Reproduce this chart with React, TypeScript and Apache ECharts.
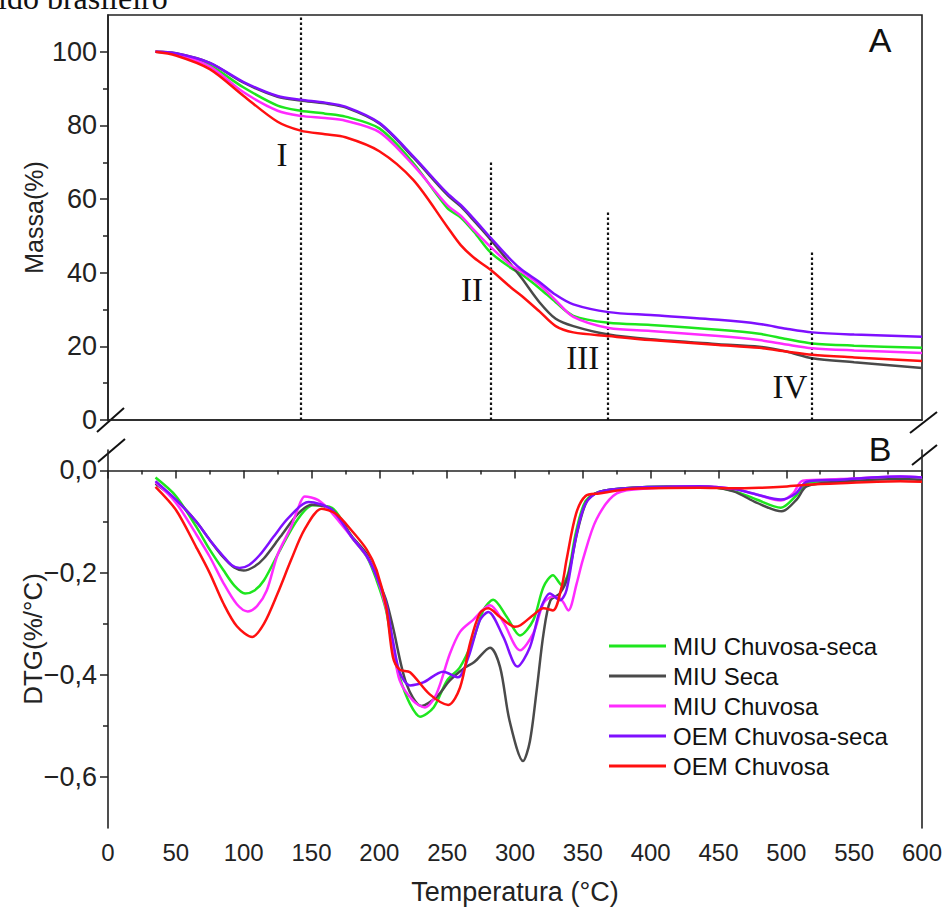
import React, { useEffect, useRef } from 'react';
import * as echarts from 'echarts';

const seriesNames = ['MIU Chuvosa-seca', 'MIU Seca', 'MIU Chuvosa', 'OEM Chuvosa-seca', 'OEM Chuvosa'];
const seriesColors = ['#1ee61e', '#4a4a4a', '#ff2bff', '#7f10ff', '#ff1010'];

// TG (mass %) curves
const tgTemps = [35, 50, 75, 100, 125, 142, 160, 175, 200, 225, 250, 260, 270, 282, 297, 305, 318, 330, 343, 369, 400, 450, 480, 500, 519, 550, 600];
const tgMiuChuvosaSeca = [100, 99.5, 96.3, 90.3, 85.4, 84, 83.2, 82.4, 79.2, 69.8, 57.6, 55, 51, 45.5, 41.3, 39.5, 35.8, 32, 28.3, 26.4, 25.8, 24.5, 23.4, 22, 20.8, 20.2, 19.6];
const tgMiuSeca = [100, 99.6, 97, 91.6, 87.8, 86.8, 86, 84.9, 80.5, 71.3, 61.2, 58, 54, 49, 42.2, 38.5, 32, 27.5, 25.5, 23.2, 21.9, 20.6, 19.9, 18.6, 16.8, 15.7, 14.1];
const tgMiuChuvosa = [100, 99.4, 96, 89, 84, 82.6, 82, 81.3, 78.2, 69.2, 58.4, 55.5, 51.5, 47, 42, 40.3, 36.8, 32.5, 28, 25, 24.2, 22.8, 21.7, 20.5, 19.5, 18.9, 18.2];
const tgOemChuvosaSeca = [100, 99.6, 97, 91.8, 88, 87, 86.2, 85.1, 80.7, 71.6, 61.6, 58.4, 54.5, 49.5, 43.5, 40.8, 37.5, 34, 31.4, 29.3, 28.5, 27.2, 26.1, 24.8, 23.8, 23.2, 22.6];
const tgOemChuvosa = [100, 99, 95.3, 88, 81, 78.6, 77.6, 76.8, 73, 65.2, 52.5, 47.5, 44, 40.8, 36, 33.7, 29.5, 25.5, 23.8, 22.8, 21.7, 20.4, 19.6, 18.6, 17.7, 17, 16];

// DTG curves [temperature, value]
const dtgMiuChuvosaSeca = [[35,-0.014],[50,-0.05],[65,-0.11],[75,-0.155],[85,-0.195],[93,-0.225],[101,-0.241],[108,-0.235],[115,-0.215],[127,-0.155],[140,-0.095],[151,-0.068],[165,-0.073],[180,-0.132],[191,-0.17],[198,-0.215],[205,-0.274],[210,-0.352],[215,-0.405],[222.6,-0.457],[230,-0.482],[240,-0.464],[250,-0.411],[259.5,-0.385],[269,-0.333],[276.6,-0.274],[284,-0.253],[294,-0.287],[303.7,-0.323],[313.5,-0.293],[321,-0.228],[328,-0.205],[334.4,-0.224],[339.3,-0.201],[345,-0.12],[352,-0.06],[362,-0.042],[387,-0.034],[436,-0.031],[461,-0.04],[478,-0.057],[496,-0.073],[507,-0.05],[515,-0.025],[540,-0.019],[584,-0.014],[600,-0.018]];
const dtgMiuSeca = [[35,-0.026],[50,-0.057],[65,-0.1],[75,-0.136],[85,-0.17],[93,-0.19],[100,-0.196],[108,-0.188],[115,-0.172],[127,-0.13],[140,-0.085],[150,-0.067],[165,-0.077],[180,-0.13],[191,-0.165],[200,-0.22],[205,-0.254],[210,-0.306],[220,-0.418],[231,-0.461],[242,-0.444],[252,-0.411],[262,-0.388],[270,-0.375],[281.6,-0.347],[289,-0.385],[296,-0.49],[306,-0.569],[311,-0.53],[316,-0.43],[321,-0.32],[326,-0.255],[333,-0.241],[339,-0.208],[346,-0.12],[353,-0.06],[362,-0.042],[387,-0.034],[436,-0.031],[461,-0.041],[478,-0.063],[496.6,-0.08],[507.6,-0.057],[515,-0.031],[540,-0.022],[584,-0.017],[600,-0.019]];
const dtgMiuChuvosa = [[35,-0.023],[50,-0.063],[65,-0.125],[75,-0.169],[85,-0.22],[95,-0.262],[103,-0.276],[110,-0.265],[117,-0.235],[125,-0.165],[135,-0.11],[140,-0.075],[145,-0.051],[155,-0.058],[165,-0.083],[180,-0.132],[191,-0.169],[198,-0.208],[205,-0.27],[210,-0.34],[215,-0.411],[225,-0.451],[233.6,-0.464],[242,-0.438],[252,-0.359],[259.5,-0.316],[269,-0.293],[281.6,-0.264],[291.4,-0.297],[303.7,-0.352],[313.5,-0.319],[321,-0.26],[328,-0.247],[334.4,-0.254],[339.3,-0.274],[345.5,-0.221],[350,-0.175],[360,-0.096],[375,-0.045],[400,-0.035],[436,-0.031],[461,-0.036],[478,-0.047],[496,-0.059],[505,-0.045],[512,-0.02],[540,-0.017],[584,-0.012],[600,-0.014]];
const dtgOemChuvosaSeca = [[35,-0.021],[50,-0.057],[65,-0.1],[75,-0.136],[85,-0.168],[91,-0.185],[97,-0.191],[104,-0.185],[112,-0.165],[122,-0.13],[133,-0.093],[147.7,-0.062],[165,-0.077],[180,-0.132],[191,-0.169],[198,-0.208],[205,-0.26],[210,-0.333],[215,-0.395],[222.6,-0.421],[232.4,-0.415],[247,-0.394],[258,-0.405],[265.6,-0.366],[274.2,-0.293],[280.3,-0.277],[291.4,-0.326],[301.7,-0.384],[311,-0.346],[318.4,-0.274],[325.8,-0.241],[333.2,-0.254],[338,-0.234],[345,-0.13],[352,-0.065],[362,-0.042],[387,-0.034],[436,-0.031],[461,-0.036],[478,-0.047],[496,-0.057],[507,-0.045],[515,-0.022],[540,-0.018],[584,-0.012],[600,-0.014]];
const dtgOemChuvosa = [[35,-0.032],[50,-0.077],[65,-0.15],[75,-0.201],[85,-0.26],[95,-0.305],[106.4,-0.326],[115,-0.3],[125,-0.241],[135,-0.175],[145,-0.115],[157.5,-0.075],[168,-0.085],[180,-0.119],[190.7,-0.155],[198,-0.195],[205,-0.267],[210,-0.365],[215,-0.39],[222.6,-0.395],[237,-0.438],[250.8,-0.459],[259.5,-0.425],[266.8,-0.339],[274,-0.28],[280.3,-0.27],[289,-0.287],[300,-0.306],[304,-0.303],[313.5,-0.283],[321,-0.27],[328,-0.274],[334.4,-0.228],[338,-0.175],[345,-0.085],[352,-0.05],[362,-0.045],[387,-0.036],[436,-0.034],[461,-0.035],[480,-0.034],[497,-0.032],[515,-0.028],[540,-0.025],[584,-0.021],[600,-0.022]];

// Ticks
const massTicks = [0, 20, 40, 60, 80, 100];
const massMinorTicks = [10, 30, 50, 70, 90];
const dtgTicks = [-0.6, -0.4, -0.2, 0];
const dtgMinorTicks = [-0.5, -0.3, -0.1];

// Stage markers (temperature, top of dotted line) and label anchors
const stageTemps = [142, 282, 368.5, 519];
const stageTops = [110, 70, 57, 46];
const stageLabels = ['I', 'II', 'III', 'IV'];
const stageLabelTemps = [128.3, 268.3, 350, 502.7];
const stageLabelMass = [72, 35.3, 16.8, 9];

const tgSets = [tgMiuChuvosaSeca, tgMiuSeca, tgMiuChuvosa, tgOemChuvosaSeca, tgOemChuvosa];
const dtgSets = [dtgMiuChuvosaSeca, dtgMiuSeca, dtgMiuChuvosa, dtgOemChuvosaSeca, dtgOemChuvosa];

const SANS = 'Liberation Sans, Arial, sans-serif';
const SERIF = 'Liberation Serif, Times New Roman, serif';
const AX = '#222';

const fmtDtg = (v: number) => {
  const s = Math.abs(v).toFixed(1).replace('.', ',');
  return v < -1e-9 ? '\u2212' + s : s;
};

export default function App() {
  const ref = useRef<HTMLDivElement>(null);
  useEffect(() => {
    if (!ref.current) return;
    const chart = echarts.init(ref.current, null, { renderer: 'svg' });
    const axisLine = { show: true, lineStyle: { color: AX, width: 1.6 } };

    const series: any[] = [];
    tgSets.forEach((arr, i) => {
      const s: any = {
        name: seriesNames[i],
        type: 'line',
        xAxisIndex: 0,
        yAxisIndex: 0,
        data: tgTemps.map((t, j) => [t, arr[j]]),
        smooth: 0.3,
        symbol: 'none',
        lineStyle: { color: seriesColors[i], width: 2.5 },
        itemStyle: { color: seriesColors[i] },
        z: 3 + i,
      };
      if (i === 0) {
        s.markLine = {
          silent: true,
          symbol: ['none', 'none'],
          label: { show: false },
          lineStyle: { type: [2.5, 2.5], color: '#111', width: 2.2 },
          data: stageTemps.map((t, k) => [{ coord: [t, 0] }, { coord: [t, stageTops[k]] }]),
        };
        s.markPoint = {
          silent: true,
          data: stageLabels.map((lab, k) => ({
            coord: [stageLabelTemps[k], stageLabelMass[k]],
            symbol: 'rect',
            symbolSize: 1,
            itemStyle: { color: 'rgba(0,0,0,0)' },
            label: {
              show: true,
              position: 'inside',
              formatter: lab,
              fontFamily: SERIF,
              fontSize: 33,
              color: '#111',
            },
          })),
        };
      }
      series.push(s);
    });
    dtgSets.forEach((arr, i) => {
      series.push({
        name: seriesNames[i],
        type: 'line',
        xAxisIndex: 1,
        yAxisIndex: 2,
        data: arr,
        smooth: 0.3,
        symbol: 'none',
        lineStyle: { color: seriesColors[i], width: 2.5 },
        itemStyle: { color: seriesColors[i] },
        z: 3 + i,
      });
    });

    const option: any = {
      animation: false,
      backgroundColor: '#ffffff',
      textStyle: { fontFamily: SANS },
      grid: [
        { left: 108, top: 15, width: 814, height: 405, show: true, borderColor: AX, borderWidth: 1.6, backgroundColor: 'transparent' },
        { left: 108, top: 450, width: 814, height: 378, show: false },
      ],
      xAxis: [
        {
          gridIndex: 0, type: 'value', min: 0, max: 600, interval: 50,
          axisLine, axisTick: { show: false }, axisLabel: { show: false }, splitLine: { show: false },
        },
        {
          gridIndex: 1, type: 'value', min: 0, max: 600, interval: 50,
          axisLine,
          axisTick: { show: true, length: 8, lineStyle: { color: AX, width: 1.5 } },
          minorTick: { show: true, splitNumber: 2, length: 4, lineStyle: { color: AX, width: 1.5 } },
          axisLabel: { fontSize: 24, color: '#222', margin: 12, fontFamily: SANS },
          splitLine: { show: false },
          name: 'Temperatura (°C)', nameLocation: 'middle', nameGap: 50, nameMoveOverlap: false,
          nameTextStyle: { fontSize: 27, color: '#222', fontFamily: SANS },
        },
      ],
      yAxis: [
        {
          gridIndex: 0, type: 'value', min: 0, max: 110, interval: 10,
          axisLine,
          axisTick: { show: true, length: 8, customValues: massTicks, lineStyle: { color: AX, width: 1.5 } },
          axisLabel: { customValues: massTicks, fontSize: 27, color: '#222', margin: 11, fontFamily: SANS },
          splitLine: { show: false },
          name: 'Massa(%)', nameLocation: 'middle', nameGap: 62, nameMoveOverlap: false,
          nameTextStyle: { fontSize: 25, color: '#222', fontFamily: SANS },
        },
        {
          gridIndex: 0, type: 'value', min: 0, max: 110, interval: 10, position: 'left',
          axisLine: { show: false },
          axisTick: { show: true, length: 5, customValues: massMinorTicks, lineStyle: { color: AX, width: 1.5 } },
          axisLabel: { show: false }, splitLine: { show: false },
        },
        {
          gridIndex: 1, type: 'value', min: -0.7, max: 0.04, interval: 0.1,
          axisLine,
          axisTick: { show: true, length: 8, customValues: dtgTicks, lineStyle: { color: AX, width: 1.5 } },
          axisLabel: { customValues: dtgTicks, formatter: fmtDtg, fontSize: 27, color: '#222', margin: 11, fontFamily: SANS },
          splitLine: { show: false },
          name: 'DTG(%/°C)', nameLocation: 'middle', nameGap: 62, nameMoveOverlap: false,
          nameTextStyle: { fontSize: 26, color: '#222', fontFamily: SANS },
        },
        {
          gridIndex: 1, type: 'value', min: -0.7, max: 0.04, interval: 0.1, position: 'left',
          axisLine: { show: false },
          axisTick: { show: true, length: 5, customValues: dtgMinorTicks, lineStyle: { color: AX, width: 1.5 } },
          axisLabel: { show: false }, splitLine: { show: false },
        },
        {
          gridIndex: 1, type: 'value', min: -0.7, max: 0.04, position: 'right',
          axisLine, axisTick: { show: false }, axisLabel: { show: false }, splitLine: { show: false },
        },
      ],
      legend: {
        orient: 'vertical',
        left: 604,
        top: 629,
        icon: 'rect',
        itemWidth: 57,
        itemHeight: 3,
        itemGap: 6,
        data: seriesNames,
        textStyle: { fontSize: 24, color: '#111', fontFamily: SANS, padding: [0, 0, 0, 2] },
      },
      graphic: [
        { type: 'text', x: -2, y: 14, style: { text: 'ido brasileiro', fontSize: 32, fontFamily: SERIF, fill: '#111', verticalAlign: 'bottom', align: 'left' } },
        { type: 'text', x: 880, y: 40, style: { text: 'A', fontSize: 34, fontFamily: SANS, fill: '#111', align: 'center', verticalAlign: 'middle' } },
        { type: 'text', x: 880, y: 449, style: { text: 'B', fontSize: 34, fontFamily: SANS, fill: '#111', align: 'center', verticalAlign: 'middle' } },
        { type: 'line', shape: { x1: 97, y1: 432, x2: 124, y2: 408 }, style: { stroke: '#111', lineWidth: 2 } },
        { type: 'line', shape: { x1: 98, y1: 462, x2: 125, y2: 439 }, style: { stroke: '#111', lineWidth: 2 } },
        { type: 'line', shape: { x1: 910, y1: 433, x2: 937, y2: 412 }, style: { stroke: '#111', lineWidth: 2 } },
        { type: 'line', shape: { x1: 912, y1: 465, x2: 937, y2: 445 }, style: { stroke: '#111', lineWidth: 2 } },
      ],
      series,
    };
    chart.setOption(option);
    return () => chart.dispose();
  }, []);
  return <div ref={ref} style={{ position: 'fixed', left: 0, top: 0, width: 945, height: 908 }} />;
}
